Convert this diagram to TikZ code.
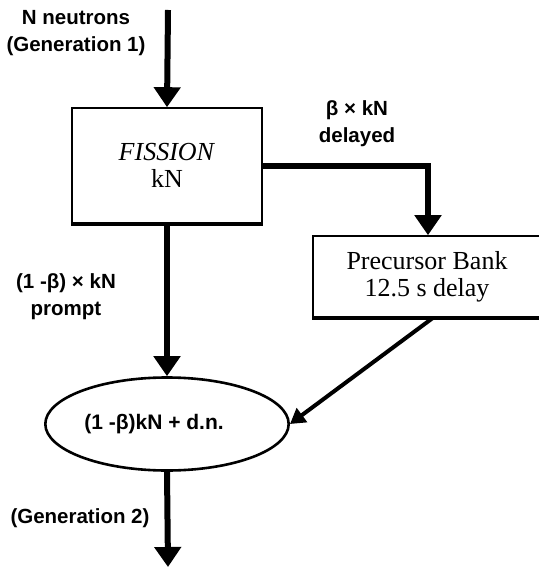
\documentclass[tikz,border=0pt]{standalone}
\usepackage{fontspec}
\setmainfont{Liberation Serif}
\newfontfamily\lblfont{Liberation Sans}
\usetikzlibrary{positioning,shapes.geometric,arrows.meta}

\tikzset{
    box/.style={draw, line width=1.6pt, rectangle, align=center,
        font=\fontsize{26}{27}\selectfont},
    lbl/.style={align=center, inner sep=0pt,
        font=\lblfont\bfseries\fontsize{20.5}{27}\selectfont},
    flow/.style={line width=6pt, -{Triangle[width=26pt,length=20pt]}},
    feed/.style={line width=4pt, -{Triangle[width=17pt,length=15pt]}}
}

\begin{document}
\begin{tikzpicture}[x=1pt,y=-1pt]
        \useasboundingbox (0,0) rectangle (538,569);
        % boxes
        \node[box, minimum width=190pt, minimum height=115pt] (fission) at (167,165.5) {\textit{FISSION}\\kN};
        \node[box, minimum width=228pt, minimum height=81pt] (bank) at (427,276.5) {Precursor Bank\\12.5 s delay};
        \node[draw, ellipse, line width=2.6pt, minimum width=232pt, minimum height=93pt,
              font=\lblfont\bfseries\fontsize{21}{24}\selectfont] (sum) at (167,424) {(1 -β)kN + d.n.\hspace*{26pt}};
        % heavier bottom edges
        \draw[line width=4pt] (fission.south west) -- (fission.south east);
        \draw[line width=4pt] (bank.south west) -- (bank.south east);
        % labels
        \node[lbl] (nin) at (76,33.5) {N neutrons\\(Generation 1)};
        \node[lbl] (lbldelay) at (357,123.5) {β × kN\\delayed};
        \node[lbl] (lblprompt) at (66,297) {(1 -β) × kN\\prompt};
        \node[lbl] (nout) at (80,518) {(Generation 2)};
        % arrows
        \coordinate (top) at (168,10);
        \coordinate (bottom) at (168,567);
        \coordinate (corner) at (428,166);
        \draw[flow] (top) -- (fission.north);
        \draw[flow] (fission.south) -- (sum.north);
        \draw[flow] (fission.east |- corner) -- (corner) -- (corner |- bank.north);
        \draw[feed] (bank.south) ++(6,0) -- (sum.east);
        \draw[flow] (sum.south) -- (bottom);
\end{tikzpicture}
\end{document}
